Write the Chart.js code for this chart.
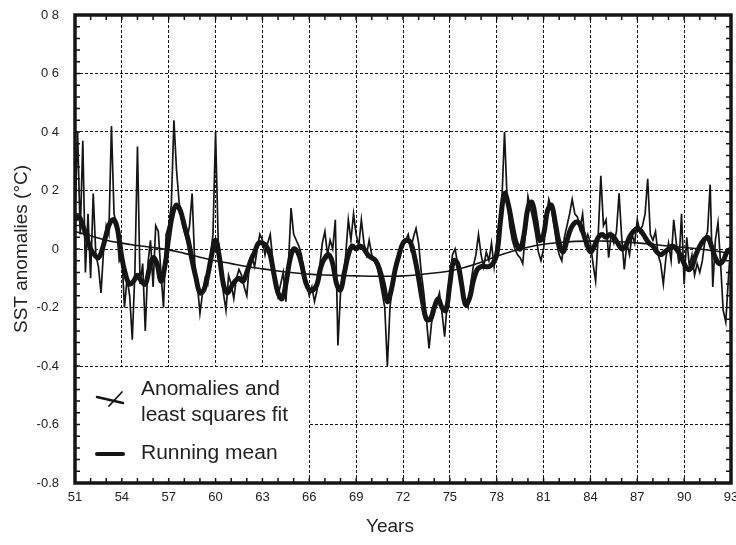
<!DOCTYPE html>
<html><head><meta charset="utf-8">
<script src="https://cdn.jsdelivr.net/npm/chart.js@4.4.1/dist/chart.umd.min.js"></script>
<style>html,body{margin:0;padding:0;background:#fff;} #wrap{width:736px;height:545px;}</style>
</head><body><div id="wrap"><canvas id="c" width="736" height="545"></canvas></div>
<script>
// ---- data ----
const startYear = 51;
const anomaliesPerYear = 6;   // samples per year of the thin anomaly line
const anomalies = [
  /*51*/  0.12,  0.40,  0.05,  0.37, -0.08,  0.12,
  /*52*/ -0.10,  0.19, -0.02, -0.06, -0.15,  0.00,
  /*53*/  0.08,  0.05,  0.42,  0.12,  0.08, -0.04,
  /*54*/ -0.02, -0.20, -0.10, -0.16, -0.31, -0.08,
  /*55*/  0.35, -0.12, -0.05, -0.28, -0.05,  0.03,
  /*56*/ -0.13,  0.08,  0.06, -0.08, -0.20,  0.05,
  /*57*/  0.08,  0.15,  0.44,  0.27,  0.16,  0.10,
  /*58*/  0.06,  0.03,  0.08,  0.19, -0.05, -0.12,
  /*59*/ -0.22, -0.15, -0.10, -0.12, -0.03,  0.05,
  /*60*/  0.40,  0.03, -0.08, -0.15, -0.21, -0.09,
  /*61*/ -0.12, -0.17, -0.10, -0.07, -0.09, -0.13,
  /*62*/ -0.16, -0.05, -0.03, -0.06,  0.00,  0.05,
  /*63*/  0.03, -0.02,  0.02,  0.05, -0.04, -0.10,
  /*64*/ -0.16, -0.12, -0.08, -0.18, -0.05,  0.14,
  /*65*/  0.05,  0.03,  0.01, -0.02, -0.08, -0.12,
  /*66*/ -0.16, -0.13, -0.18, -0.14, -0.06,  0.02,
  /*67*/  0.06, -0.02,  0.03,  0.00,  0.10, -0.33,
  /*68*/ -0.15, -0.10, -0.02,  0.10,  0.03,  0.12,
  /*69*/  0.05,  0.01,  0.10,  0.02, -0.02,  0.03,
  /*70*/ -0.02, -0.04, -0.06, -0.10, -0.15, -0.20,
  /*71*/ -0.40, -0.20, -0.12, -0.08, -0.03, -0.01,
  /*72*/  0.02,  0.03,  0.05,  0.00,  0.04,  0.07,
  /*73*/  0.02, -0.08, -0.15, -0.24, -0.34, -0.25,
  /*74*/ -0.22, -0.18, -0.15, -0.22, -0.30, -0.18,
  /*75*/ -0.10, -0.02,  0.00, -0.05, -0.10, -0.15,
  /*76*/ -0.18, -0.20, -0.12, -0.06, -0.02,  0.05,
  /*77*/ -0.02, -0.06, -0.01, -0.04,  0.02, -0.06,
  /*78*/  0.02,  0.08,  0.17,  0.40,  0.17,  0.08,
  /*79*/  0.03,  0.00, -0.02, -0.03, -0.05,  0.05,
  /*80*/  0.18,  0.14,  0.10,  0.05, -0.01, -0.04,
  /*81*/  0.00,  0.10,  0.17,  0.14,  0.08,  0.02,
  /*82*/ -0.02, -0.04,  0.04,  0.08,  0.12,  0.17,
  /*83*/  0.12,  0.11,  0.07,  0.12,  0.02,  0.05,
  /*84*/  0.02, -0.05, -0.11,  0.05,  0.25,  0.08,
  /*85*/  0.10, -0.03,  0.05,  0.02,  0.06,  0.19,
  /*86*/  0.04, -0.07,  0.02, -0.02,  0.05,  0.02,
  /*87*/  0.10,  0.06,  0.08,  0.12,  0.24,  0.05,
  /*88*/  0.03,  0.06, -0.02, -0.05, -0.12, -0.03,
  /*89*/  0.02, -0.04,  0.10,  0.02, -0.05,  0.12,
  /*90*/ -0.12,  0.04, -0.06, -0.02, -0.09, -0.05,
  /*91*/ -0.08, -0.04,  0.03,  0.06,  0.22, -0.13,
  /*92*/  0.03,  0.09, -0.05, -0.21, -0.25, -0.10,
  /*93*/  0.03
];

const runningMeanPerYear = 4; // samples per year of the thick running mean
const runningMean = [
  /*51*/  0.10,  0.11,  0.08,  0.04,
  /*52*/  0.00, -0.02, -0.03,  0.00,
  /*53*/  0.05,  0.09,  0.10,  0.06,
  /*54*/ -0.03, -0.09, -0.12, -0.11,
  /*55*/ -0.09, -0.11, -0.12, -0.07,
  /*56*/ -0.03, -0.05, -0.11, -0.06,
  /*57*/  0.04,  0.12,  0.15,  0.13,
  /*58*/  0.08,  0.03, -0.04, -0.10,
  /*59*/ -0.15, -0.14, -0.09, -0.02,
  /*60*/  0.03, -0.03, -0.12, -0.15,
  /*61*/ -0.13, -0.11, -0.10, -0.11,
  /*62*/ -0.08, -0.04, -0.01,  0.02,
  /*63*/  0.02,  0.01, -0.02, -0.09,
  /*64*/ -0.15, -0.17, -0.12, -0.04,
  /*65*/  0.00, -0.01, -0.05, -0.11,
  /*66*/ -0.14, -0.14, -0.12, -0.06,
  /*67*/ -0.03, -0.02, -0.05, -0.12,
  /*68*/ -0.14, -0.08, -0.02,  0.01,
  /*69*/  0.00,  0.01,  0.00, -0.02,
  /*70*/ -0.03, -0.04, -0.07, -0.12,
  /*71*/ -0.18, -0.14, -0.07, -0.02,
  /*72*/  0.02,  0.03,  0.02, -0.03,
  /*73*/ -0.10, -0.18, -0.24, -0.24,
  /*74*/ -0.20, -0.17, -0.20, -0.21,
  /*75*/ -0.12, -0.04, -0.05, -0.12,
  /*76*/ -0.19, -0.17, -0.11, -0.07,
  /*77*/ -0.06, -0.06, -0.06, -0.05,
  /*78*/ -0.02,  0.10,  0.19,  0.15,
  /*79*/  0.08,  0.02,  0.00,  0.05,
  /*80*/  0.14,  0.16,  0.10,  0.03,
  /*81*/  0.05,  0.13,  0.15,  0.09,
  /*82*/  0.02, -0.01,  0.03,  0.07,
  /*83*/  0.09,  0.09,  0.06,  0.02,
  /*84*/ -0.01,  0.01,  0.04,  0.05,
  /*85*/  0.04,  0.05,  0.04,  0.02,
  /*86*/  0.00,  0.01,  0.04,  0.06,
  /*87*/  0.07,  0.06,  0.04,  0.02,
  /*88*/  0.01, -0.01, -0.02, -0.01,
  /*89*/  0.00,  0.01,  0.00, -0.02,
  /*90*/ -0.05, -0.07, -0.06, -0.02,
  /*91*/  0.01,  0.03,  0.04,  0.01,
  /*92*/ -0.03, -0.05, -0.04, -0.01,
  /*93*/  0.00
];

const fitYears = [51,52,53,54,55,56,57,58,59,60,61,62,63,64,65,66,67,68,69,70,71,72,
                  73,74,75,76,77,78,79,80,81,82,83,84,85,86,87,88,89,90,91,92,93];
const fitValues = [0.060,0.045,0.030,0.020,0.012,0.005,-0.003,-0.015,-0.028,-0.040,-0.050,
                   -0.060,-0.068,-0.075,-0.081,-0.086,-0.089,-0.091,-0.092,-0.093,-0.093,
                   -0.092,-0.088,-0.082,-0.075,-0.062,-0.045,-0.025,-0.008,0.006,0.016,
                   0.022,0.026,0.027,0.027,0.025,0.021,0.016,0.010,0.005,0.000,-0.007,-0.015];

const xTickLabels = ['51','54','57','60','63','66','69','72','75','78','81','84','87','90','93'];
const yTickLabels = ['-0.8','-0.6','-0.4','-0.2','0','0 2','0 4','0 6','0 8'];

const yTitle = 'SST anomalies (°C)';
const xTitle = 'Years';
const legendLines = ['Anomalies and', 'least squares fit', 'Running mean'];

// ---- chart ----
const tickFont = "'Liberation Sans Narrow', 'Liberation Sans', Arial, sans-serif";
const textFont = "'Liberation Sans', Arial, sans-serif";
const ink = '#151515';

const legendPlugin = {
  id: 'legendBox',
  beforeDatasetsDraw(chart) {
    const {ctx, chartArea: a, scales: {x, y}} = chart;
    const top = y.getPixelForValue(-0.4);
    const right = x.getPixelForValue(66);
    ctx.save();
    ctx.fillStyle = '#fff';
    ctx.fillRect(a.left + 1, top + 1, right - a.left - 2, a.bottom - top - 1);
    ctx.fillStyle = '#222';
    ctx.font = '21px ' + textFont;
    ctx.textBaseline = 'middle';
    ctx.textAlign = 'left';
    ctx.fillText(legendLines[0], a.left + 66, top + 23);
    ctx.fillText(legendLines[1], a.left + 66, top + 49);
    ctx.fillText(legendLines[2], a.left + 66, top + 87);
    // anomaly icon (crossing thin lines)
    ctx.strokeStyle = ink;
    ctx.lineCap = 'round';
    ctx.lineWidth = 2.5;
    ctx.beginPath();
    ctx.moveTo(a.left + 22, top + 31);
    ctx.lineTo(a.left + 48, top + 37);
    ctx.stroke();
    ctx.lineWidth = 1.8;
    ctx.beginPath();
    ctx.moveTo(a.left + 34, top + 40);
    ctx.lineTo(a.left + 47, top + 26);
    ctx.stroke();
    // running mean icon
    ctx.lineWidth = 4;
    ctx.beginPath();
    ctx.moveTo(a.left + 22, top + 88);
    ctx.lineTo(a.left + 48, top + 88);
    ctx.stroke();
    ctx.restore();
  }
};

const framePlugin = {
  id: 'frame',
  afterDraw(chart) {
    const {ctx, chartArea: a, scales: {x, y}} = chart;
    ctx.save();
    ctx.strokeStyle = ink;
    ctx.lineWidth = 3.5;
    ctx.strokeRect(a.left, a.top, a.right - a.left, a.bottom - a.top);
    ctx.lineWidth = 1.5;
    ctx.beginPath();
    for (let k = 0; k <= 40; k++) {
      const py = y.getPixelForValue(-0.8 + k * 0.04);
      ctx.moveTo(a.left, py); ctx.lineTo(a.left + 5, py);
      ctx.moveTo(a.right, py); ctx.lineTo(a.right - 5, py);
    }
    for (let yr = 51; yr <= 93; yr++) {
      const px = x.getPixelForValue(yr);
      ctx.moveTo(px, a.top); ctx.lineTo(px, a.top + 5);
      ctx.moveTo(px, a.bottom); ctx.lineTo(px, a.bottom - 5);
    }
    ctx.stroke();
    // axis titles
    ctx.fillStyle = '#222';
    ctx.font = '19px ' + textFont;
    ctx.textAlign = 'center';
    ctx.textBaseline = 'middle';
    ctx.fillText(xTitle, 390, 527);
    ctx.translate(22, (a.top + a.bottom) / 2);
    ctx.rotate(-Math.PI / 2);
    ctx.fillText(yTitle, 0, 0);
    ctx.restore();
  }
};

new Chart(document.getElementById('c'), {
  type: 'line',
  data: {
    datasets: [
      {
        label: 'Anomalies',
        data: anomalies.map((v, i) => ({x: startYear + i / anomaliesPerYear, y: v})),
        borderColor: ink, borderWidth: 1.7, pointRadius: 0, tension: 0, fill: false
      },
      {
        label: 'Running mean',
        data: runningMean.map((v, i) => ({x: startYear + i / runningMeanPerYear, y: v})),
        borderColor: ink, borderWidth: 5, pointRadius: 0, tension: 0.4, fill: false
      },
      {
        label: 'Least squares fit',
        data: fitYears.map((yr, i) => ({x: yr, y: fitValues[i]})),
        borderColor: ink, borderWidth: 1.6, pointRadius: 0, tension: 0.4, fill: false
      }
    ]
  },
  options: {
    responsive: false,
    animation: false,
    devicePixelRatio: 1,
    layout: {padding: {top: 15, right: 5, left: 0, bottom: 0}},
    plugins: {legend: {display: false}, tooltip: {enabled: false}},
    scales: {
      x: {
        type: 'linear', min: 51, max: 93,
        ticks: {stepSize: 3, autoSkip: false, maxRotation: 0, padding: 7, color: '#222',
                font: {family: tickFont, size: 13},
                callback: (v, i) => xTickLabels[i]},
        grid: {color: ink, lineWidth: 1, drawTicks: false},
        border: {display: false, dash: [3, 2]},
        afterFit: s => { s.height = 62; s.paddingLeft = 0; s.paddingRight = 0; }
      },
      y: {
        type: 'linear', min: -0.8, max: 0.8,
        ticks: {stepSize: 0.2, autoSkip: false, padding: 16, color: '#222',
                font: {family: tickFont, size: 13},
                callback: (v, i) => yTickLabels[i]},
        grid: {color: ink, lineWidth: 1, drawTicks: false},
        border: {display: false, dash: [3, 2]},
        afterFit: s => { s.width = 75; s.paddingTop = 0; s.paddingBottom = 0; }
      }
    }
  },
  plugins: [legendPlugin, framePlugin]
});
</script>
</body></html>
